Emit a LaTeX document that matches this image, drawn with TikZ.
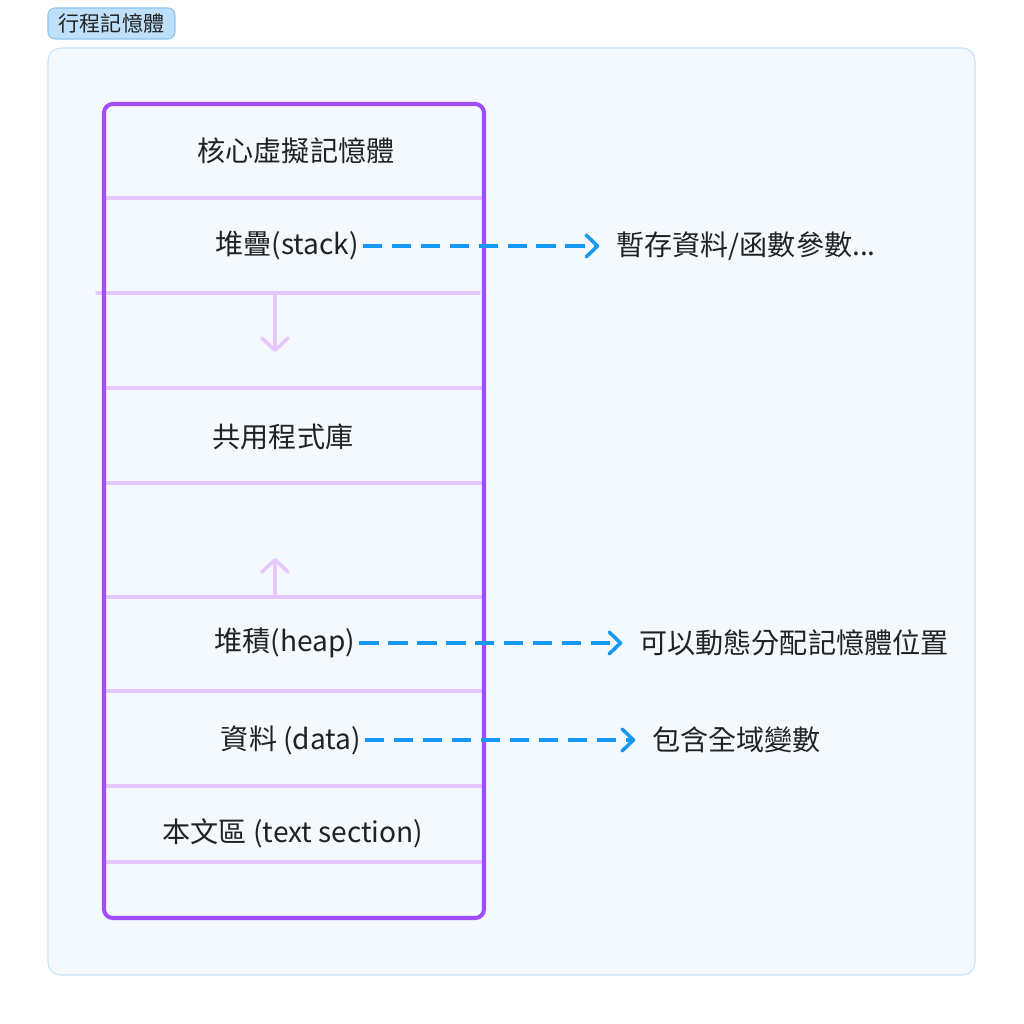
\documentclass[tikz,border=0pt]{standalone}
\usepackage{fontspec}
\setmainfont{Noto Sans CJK TC}
\usetikzlibrary{positioning, arrows.meta}
\definecolor{purple1}{RGB}{160, 76, 255}
\definecolor{lilac1}{RGB}{228, 200, 255}
\definecolor{blue1}{RGB}{24, 152, 245}
\definecolor{panel1}{RGB}{244, 249, 254}
\definecolor{panelline}{RGB}{200, 226, 248}
\definecolor{tag1}{RGB}{190, 224, 250}
\definecolor{tagline}{RGB}{140, 196, 238}
\definecolor{ink1}{RGB}{34, 34, 34}

\tikzset{
  seg/.style={text=ink1, font=\fontsize{16pt}{19pt}\selectfont, inner sep=2pt},
  note/.style={seg, anchor=west, inner sep=0pt},
  divider/.style={draw=lilac1, line width=2pt, line cap=round},
  growarrow/.style={draw=lilac1, line width=2pt, -{Straight Barb[round, length=7pt, width=15pt]}},
  link/.style={draw=blue1, line width=2pt, dash pattern=on 11pt off 5.5pt, shorten >=9.5pt,
    -{Straight Barb[round, length=6.5pt, width=12.5pt]}}
}

\begin{document}
\begin{tikzpicture}[x=0.02cm, y=-0.02cm]
  \useasboundingbox (0,0) rectangle (1024,1024);

  \draw[draw=panelline, fill=panel1, line width=0.6pt, rounded corners=7pt] (48,48) rectangle (975,975);
  \node[draw=tagline, fill=tag1, line width=0.6pt, rounded corners=4pt, minimum width=2.54cm, minimum height=0.62cm,
    inner sep=0pt, text=ink1, font=\fontsize{12pt}{14pt}\selectfont] (tag) at (111.5,23.5) {行程記憶體};

  \foreach \y in {198, 388, 483, 597, 691, 786, 862}
    \draw[divider] (104,\y) -- (484,\y);
  \draw[divider] (97,293) -- (479,293);
  \draw[purple1, line width=2.3pt, rounded corners=5pt] (104,104) rectangle (484,918);

  \draw[growarrow] (275,293) -- (275,352);
  \draw[growarrow] (275,597) -- (275,558);

  \node[seg] (kernel) at (296,151) {核心虛擬記憶體};
  \node[seg] (stack) at (287,246) {堆疊(stack)};
  \node[seg] (libs) at (283,437) {共用程式庫};
  \node[seg] (heap) at (285,643) {堆積(heap)};
  \node[seg] (data) at (291,740) {資料 (data)};
  \node[seg] (code) at (293,833) {本文區 (text section)};

  \node[note] (stacknote) at (616,246) {暫存資料/函數參數...};
  \node[note] (heapnote) at (639,643) {可以動態分配記憶體位置};
  \node[note] (datanote) at (652,740) {包含全域變數};

  \draw[link] (stack) -- (stacknote);
  \draw[link] (heap) -- (heapnote);
  \draw[link] (data) -- (datanote);
\end{tikzpicture}
\end{document}
